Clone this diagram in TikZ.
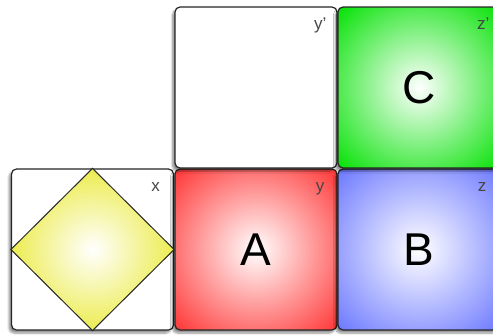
\documentclass[tikz,border=0pt]{standalone}
\usepackage{fontspec}
\setmainfont{Liberation Sans}
\usetikzlibrary{shadows, shadows.blur, positioning}

\definecolor{cellred}{RGB}{255,50,50}
\definecolor{cellgreen}{RGB}{0,225,0}
\definecolor{cellblue}{RGB}{105,118,255}
\definecolor{cellyellow}{RGB}{236,236,80}
\definecolor{taggray}{RGB}{70,70,70}

% white centre fading out to full colour at the corners
\pgfdeclareradialshading{redglow}{\pgfpoint{0bp}{0bp}}{color(0bp)=(white); color(36bp)=(cellred); color(50bp)=(cellred)}
\pgfdeclareradialshading{greenglow}{\pgfpoint{0bp}{0bp}}{color(0bp)=(white); color(36bp)=(cellgreen); color(50bp)=(cellgreen)}
\pgfdeclareradialshading{blueglow}{\pgfpoint{0bp}{0bp}}{color(0bp)=(white); color(36bp)=(cellblue); color(50bp)=(cellblue)}

\tikzset{
  cell/.style={draw=black!85, line width=1.2pt, rounded corners=5pt,
    minimum width=162pt, minimum height=161pt, inner sep=0pt,
    blur shadow={shadow xshift=-2.5pt, shadow yshift=-3pt, shadow opacity=45, shadow blur steps=6},
    font=\fontsize{46}{46}\selectfont},
  tag/.style={text=taggray, font=\fontsize{17}{17}\selectfont, anchor=base east, inner sep=0pt},
}

\begin{document}
\begin{tikzpicture}[x=1pt, y=-1pt]
  \useasboundingbox (0,0) rectangle (493,335);
  \clip (0,0) rectangle (493,335);

  % bottom row
  \node[cell, fill=white] (bx) at (92.5,249.5) {};
  \node[cell, shading=redglow] (by) at (256,249.5) {A};
  \node[cell, shading=blueglow] (bz) at (419,249.5) {B};

  % top row
  \node[cell, fill=white] (byp) at (256,87.5) {};
  \node[cell, shading=greenglow] (bzp) at (419,87.5) {C};

  % diamond inside x
  \shade[draw=black!85, line width=1pt, inner color=white, outer color=cellyellow]
    (bx.north) -- (bx.east) -- (bx.south) -- (bx.west) -- cycle;

  % corner tags
  \node[tag] at ([xshift=-14pt, yshift=-23pt] bx.north east) {x};
  \node[tag] at ([xshift=-13pt, yshift=-23pt] by.north east) {y};
  \node[tag] at ([xshift=-14pt, yshift=-23pt] bz.north east) {z};
  \node[tag] at ([xshift=-11pt, yshift=-23pt] byp.north east) {y'};
  \node[tag] at ([xshift=-11pt, yshift=-23pt] bzp.north east) {z'};
\end{tikzpicture}
\end{document}
